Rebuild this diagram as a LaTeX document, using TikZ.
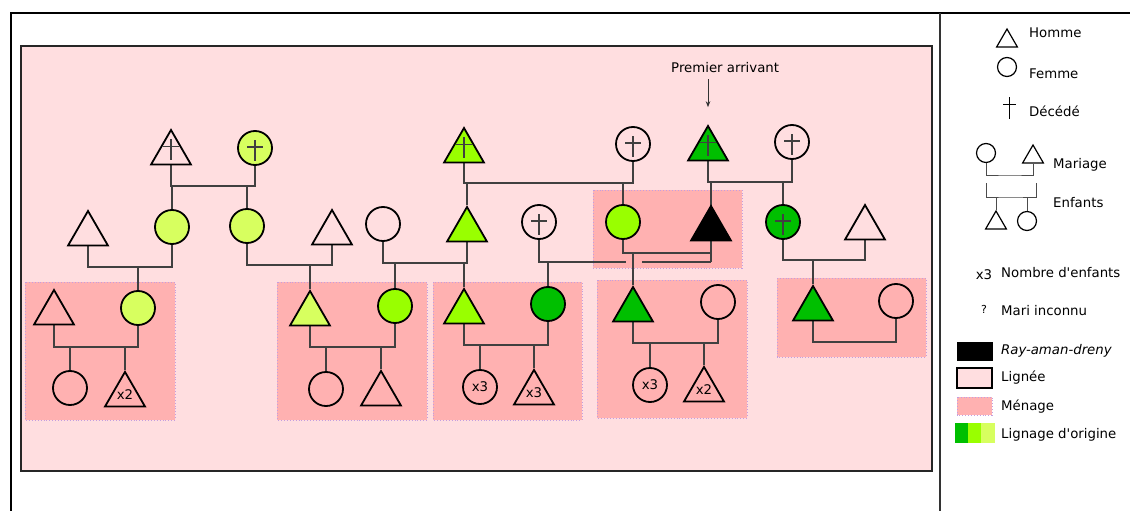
\documentclass[tikz,border=0pt]{standalone}
\usepackage{fontspec}
\newfontfamily\dv{DejaVu Sans}
\usetikzlibrary{shapes.geometric,arrows.meta,calc}
\definecolor{yg}{HTML}{D7FF5F}
\definecolor{limeg}{HTML}{99FF00}
\definecolor{darkg}{HTML}{00BF00}
\definecolor{lign}{HTML}{FFDEE0}
\definecolor{men}{HTML}{FFB1B1}
\definecolor{lav}{HTML}{C49EE0}
\pgfdeclarelayer{boxes}
\pgfdeclarelayer{links}
\pgfsetlayers{boxes,links,main}
\begin{document}
\begin{tikzpicture}[x=1pt,y=-1pt,font=\dv\fontsize{13.3}{16}\selectfont,
 tri/.style={regular polygon,regular polygon sides=3,minimum size=46pt,inner sep=0pt,draw=black,line width=1.8pt},
 circ/.style={circle,minimum size=34pt,inner sep=0pt,draw=black,line width=1.8pt},
 ltri/.style={regular polygon,regular polygon sides=3,minimum size=24pt,inner sep=0pt,draw=black,line width=1.2pt},
 lcirc/.style={circle,minimum size=19pt,inner sep=0pt,draw=black,line width=1.2pt},
 conn/.style={draw=black!75,line width=1.3pt},
 lconn/.style={draw=black!70,line width=1pt},
 menage/.style={fill=men,draw=lav,dotted,line width=0.9pt},
 lbl/.style={anchor=base west,inner sep=0pt},
 dec/.style={path picture={\draw[line width=1.1pt,black!75]
   ([yshift=8pt]path picture bounding box.center) -- ([yshift=-13pt]path picture bounding box.center)
   ([xshift=-8pt,yshift=1pt]path picture bounding box.center) -- ([xshift=8pt,yshift=1pt]path picture bounding box.center);}}]
\useasboundingbox (0,0) rectangle (1130,511);

\begin{pgfonlayer}{boxes}
\fill[white] (0,0) rectangle (1130,511);
\draw[line width=2pt] (11,511) -- (11,13) -- (1130,13);
\draw[black!80,line width=1.3pt] (940,13) -- (940,511);
\draw[fill=lign,draw=black!85,line width=1.3pt] (21,46) rectangle (932,471);
\draw[menage] (25,282) rectangle (175,420);
\draw[menage] (277,282) rectangle (427,420);
\draw[menage] (433,282) rectangle (582,420);
\draw[menage] (597,280) rectangle (747,418);
\draw[menage] (777,278) rectangle (926,357);
\draw[menage] (593,190) rectangle (742,268);
\end{pgfonlayer}

% row 1
\node[tri,dec] (A1) at (171,153) {};
\node[circ,dec,fill=yg] (A2) at (255,148) {};
\node[tri,dec,fill=limeg] (A3) at (464,151) {};
\node[circ,dec] (A4) at (633,144) {};
\node[tri,dec,fill=darkg] (A5) at (708,149) {};
\node[circ,dec] (A6) at (792,142) {};
% row 2
\node[tri] (B1) at (88,234) {};
\node[circ,fill=yg] (B2) at (172,227) {};
\node[circ,fill=yg] (B3) at (247,226) {};
\node[tri] (B4) at (332,233) {};
\node[circ] (B5) at (383,224) {};
\node[tri,fill=limeg] (B6) at (467,230) {};
\node[circ,dec] (B7) at (539,222) {};
\node[circ,fill=limeg] (B8) at (623,222) {};
\node[tri,fill=black] (B9) at (711,229) {};
\node[circ,dec,fill=darkg] (B10) at (783,222) {};
\node[tri] (B11) at (865,228) {};
% row 3
\node[tri] (C1) at (54,313) {};
\node[circ,fill=yg] (C2) at (138,308) {};
\node[tri,fill=yg] (C3) at (310,314) {};
\node[circ,fill=limeg] (C4) at (395,306) {};
\node[tri,fill=limeg] (C5) at (464,312) {};
\node[circ,fill=darkg] (C6) at (548,304) {};
\node[tri,fill=darkg] (C7) at (633,310) {};
\node[circ] (C8) at (718,302) {};
\node[tri,fill=darkg] (C9) at (813,309) {};
\node[circ] (C10) at (896,301) {};
% row 4
\node[circ] (D1) at (70,388) {};
\node[tri] (D2) at (125,395) {x2};
\node[circ] (D3) at (326,389) {};
\node[tri] (D4) at (381,394) {};
\node[circ] (D5) at (480,387) {x3};
\node[tri] (D6) at (534,393) {x3};
\node[circ] (D7) at (650,385) {x3};
\node[tri] (D8) at (704,390) {x2};

% premier arrivant
\node[lbl] (pa) at (671,73) {Premier arrivant};
\draw[black!80,line width=1pt,-{Stealth[length=6pt,width=4.5pt]}] ([yshift=-6pt]pa.south -| A5.north) -- ([yshift=17pt]A5.north);

\begin{pgfonlayer}{links}
\coordinate (fA) at (213,186);
\draw[conn] (A1.south) |- (fA) -| (A2.south);
\draw[conn] (fA -| B2.north) -- (B2.north);
\draw[conn] (fA -| B3.north) -- (B3.north);
\coordinate (fB) at (550,183);
\draw[conn] (A3.south) |- (fB) -| (A4.south);
\draw[conn] (fB -| B6.north) -- (B6.north);
\draw[conn] (fB -| B8.north) -- (B8.north);
\coordinate (fC) at (750,182);
\coordinate (mF) at (711,262);
\coordinate (mE) at (711,253);
\draw[conn] (A5.south) |- (fC) -| (A6.south);
\draw[conn] (fC -| B9.north) -- (mF);
\draw[conn] (fC -| B10.north) -- (B10.north);
% row 2 marriages
\coordinate (mA) at (130,267);
\draw[conn] (B1.south) |- (mA) -| (B2.south);
\draw[conn] (mA -| C2.north) -- (C2.north);
\coordinate (mB) at (290,265);
\draw[conn] (B3.south) |- (mB) -| (B4.south);
\draw[conn] (mB -| C3.north) -- (C3.north);
\coordinate (mC) at (425,263);
\draw[conn] (B5.south) |- (mC) -| (B6.south);
\draw[conn] (mC -| C4.north) -- (C4.north);
\draw[conn] (mC -| C5.north) -- (C5.north);
\draw[conn] (B8.south) |- (mE);
\draw[conn] (mE -| C7.north) -- (C7.north);
\draw[conn] (B7.south) |- ($(mF -| C7.north)+(-7,0)$);
\draw[conn] ($(mF -| C7.north)+(9,0)$) -- (mF);
\draw[conn] (mF -| C6.north) -- (C6.north);
\coordinate (mG) at (820,260);
\draw[conn] (B10.south) |- (mG) -| (B11.south);
\draw[conn] (mG -| C9.north) -- (C9.north);
% row 3 marriages
\coordinate (nA) at (100,347);
\draw[conn] (C1.south) |- (nA) -| (C2.south);
\draw[conn] (nA -| D1.north) -- (D1.north);
\draw[conn] (nA -| D2.north) -- (D2.north);
\coordinate (nB) at (350,347);
\draw[conn] (C3.south) |- (nB) -| (C4.south);
\draw[conn] (nB -| D3.north) -- (D3.north);
\draw[conn] (nB -| D4.north) -- (D4.north);
\coordinate (nC) at (500,345);
\draw[conn] (C5.south) |- (nC) -| (C6.south);
\draw[conn] (nC -| D5.north) -- (D5.north);
\draw[conn] (nC -| D6.north) -- (D6.north);
\coordinate (nD) at (680,343);
\draw[conn] (C7.south) |- (nD) -| (C8.south);
\draw[conn] (nD -| D7.north) -- (D7.north);
\draw[conn] (nD -| D8.north) -- (D8.north);
\coordinate (nE) at (850,342);
\draw[conn] (C9.south) |- (nE) -| (C10.south);
\end{pgfonlayer}

% legend
\node[ltri] (LH) at (1007,41) {};
\node[lbl] (tH) at (1029,38) {Homme};
\node[lcirc] (LF) at (1007,67) {};
\node[lbl] (tF) at (1029,78) {Femme};
\draw[lconn,black] (1009,97) -- (1009,119) (1003,104) -- (1016,104);
\node[lbl] (tD) at (1029,117) {Décédé};
\node[lcirc] (LM1) at (986,153) {};
\node[ltri] (LM2) at (1033,157) {};
\coordinate (lm) at (1010,175);
\draw[lconn] (LM1.south) |- (lm) -| (LM2.south);
\node[lbl] (tM) at (1053,168) {Mariage};
\node[ltri] (LE1) at (996,223) {};
\node[lcirc] (LE2) at (1027,221) {};
\coordinate (le) at (1010,197);
\draw[lconn] (986,183) |- (le) -| (1036,183);
\draw[lconn] (le -| LE1.north) -- (LE1.north);
\draw[lconn] (le -| LE2.north) -- (LE2.north);
\node[lbl] (tE) at (1053,207) {Enfants};
\node[anchor=base,inner sep=0pt] (tx3) at (984,279) {x3};
\node[lbl] (tN) at (1001,277) {Nombre d'enfants};
\node[anchor=base,inner sep=0pt,font=\dv\fontsize{11}{13}\selectfont] (tq) at (984,313) {?};
\node[lbl] (tI) at (1001,315) {Mari inconnu};
\draw[fill=black] (957,342) rectangle (992,360);
\node[lbl] (tR) at (1001,354) {\itshape Ray-aman-dreny};
\draw[fill=lign,draw=black,line width=1.3pt] (957,368) rectangle (992,388);
\node[lbl] (tL) at (1001,381) {Lignée};
\draw[menage] (957,397) rectangle (992,415);
\node[lbl] (tMe) at (1001,410) {Ménage};
\fill[darkg] (955,423) rectangle (968,443);
\fill[limeg] (968,423) rectangle (981,443);
\fill[yg] (981,423) rectangle (995,443);
\node[lbl] (tO) at (1001,438) {Lignage d'origine};
\end{tikzpicture}
\end{document}
